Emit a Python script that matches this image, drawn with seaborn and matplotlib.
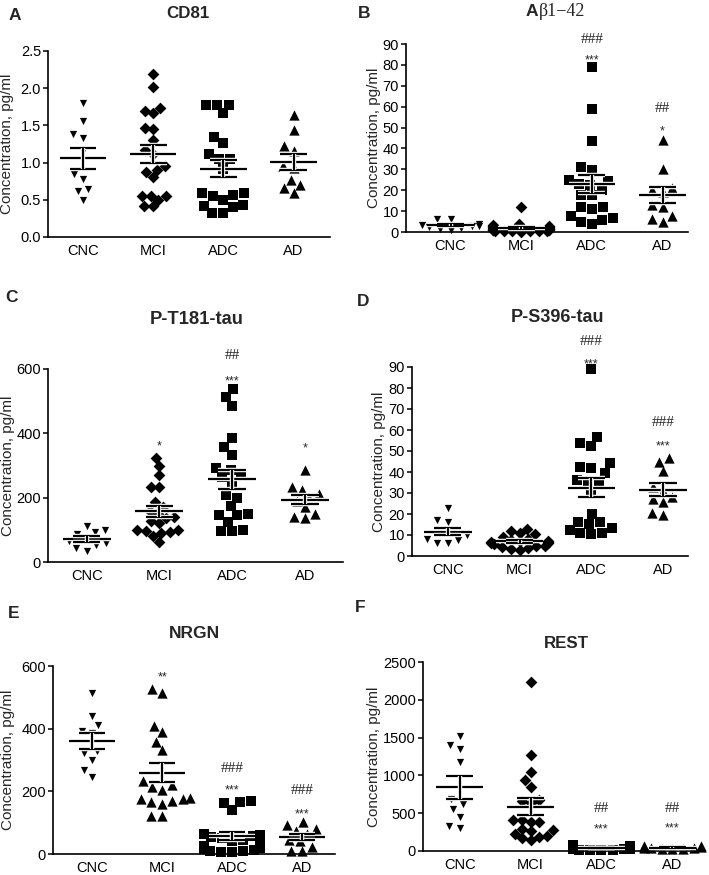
import warnings
warnings.filterwarnings("ignore")
import numpy as np
import pandas as pd
import matplotlib
matplotlib.use("Agg")
import matplotlib.pyplot as plt
import matplotlib.patheffects as pe
import seaborn as sns

# ---------------- data ----------------
groups = ["CNC", "MCI", "ADC", "AD"]

cd81_cnc = [1.80, 1.56, 1.38, 1.33, 1.15, 0.85, 0.78, 0.64, 0.62, 0.50]
cd81_mci = [2.19, 2.01, 1.69, 1.66, 1.73, 1.45, 1.46, 1.30, 1.17, 1.12,
            0.95, 0.87, 0.80, 0.90, 0.55, 0.50, 0.41, 0.41, 0.55, 0.55]
cd81_adc = [1.78, 1.78, 1.78, 1.66, 1.34, 1.26, 1.12, 1.05, 1.05, 0.92,
            0.59, 0.55, 0.56, 0.59, 0.50, 0.43, 0.41, 0.40, 0.32, 0.32]
cd81_ad = [1.64, 1.44, 1.22, 1.15, 0.95, 0.93, 0.77, 0.70, 0.66, 0.59]

ab_cnc = [6.2, 6.0, 4.0, 3.5, 3.0, 3.0, 2.5, 2.0, 1.5, 1.0]
ab_mci = [12.2, 4.0, 3.5, 3.0, 3.0, 2.5, 2.5, 2.0, 2.0, 1.5, 1.5, 1.2, 1.0,
          1.0, 0.8, 0.6, 0.5, 0.5, 0.4, 0.3, 0.3, 0.2]
ab_adc = [79.0, 59.0, 43.7, 31.3, 29.7, 25.0, 24.2, 23.0, 22.5, 20.0, 17.8,
          17.5, 12.2, 12.2, 11.1, 6.7, 5.9, 7.5, 5.0, 4.0]
ab_ad = [44.0, 30.0, 21.0, 20.0, 19.0, 13.0, 12.0, 7.5, 6.0, 5.0]

pt181_cnc = [112, 100, 92, 88, 72, 65, 58, 52, 42, 35]
pt181_mci = [322, 298, 269, 234, 232, 187, 172, 160, 140, 138, 128, 100, 98,
             95, 92, 90, 80, 62, 150, 120]
pt181_adc = [537, 512, 485, 386, 356, 334, 291, 285, 270, 265, 250, 208, 200,
             173, 150, 145, 145, 125, 100, 95, 95]
pt181_ad = [285, 233, 225, 210, 200, 190, 170, 150, 138, 140]

ps396_cnc = [23, 17, 16, 12, 11, 10, 8, 7.5, 6, 6]
ps396_mci = [13, 12, 11, 10.5, 9, 8, 7.5, 7, 7, 6.5, 6.5, 6, 6, 5.5, 5, 5,
             4.5, 4, 3.5, 3]
ps396_adc = [89, 56.9, 53.7, 52.5, 44.1, 41.7, 42.5, 39.6, 36.1, 35.5, 35.4,
             30.6, 20.2, 16.2, 16, 15.4, 13.5, 12.5, 11.1, 11, 10.5]
ps396_ad = [46.5, 45, 40.5, 33, 31, 28, 27, 25.5, 20.5, 19.5]

nrgn_cnc = [515, 439, 412, 394, 385, 330, 322, 300, 269, 247]
nrgn_mci = [526, 513, 410, 388, 359, 332, 232, 221, 215, 205, 178, 175, 175,
            170, 165, 160, 122, 122]
nrgn_adc = [168, 165, 163, 141, 65, 62, 58, 55, 50, 45, 40, 32, 25, 20, 15,
            12, 10, 8, 5, 5]
nrgn_ad = [102, 92, 80, 75, 65, 45, 40, 22, 10, 8]

rest_cnc = [1517, 1398, 1354, 1177, 692, 626, 560, 450, 309, 326]
rest_mci = [2235, 1265, 1045, 935, 847, 670, 660, 640, 414, 406, 380, 295,
            282, 260, 229, 200, 185, 141, 170, 390]
rest_adc = [75, 70, 65, 60, 55, 50, 48, 45, 40, 38, 35, 30, 28, 25, 22, 20,
            18, 15, 12, 10]
rest_ad = [70, 60, 55, 50, 45, 40, 35, 30, 25, 20]

titles = ["CD81", None, "P-T181-tau", "P-S396-tau", "NRGN", "REST"]
letters = ["A", "B", "C", "D", "E", "F"]

# significance marks: (group, text, y)
annot_b = [("ADC", "***", 84), ("ADC", "###", 92), ("AD", "*", 50), ("AD", "##", 59)]
annot_c = [("MCI", "*", 373), ("ADC", "***", 574), ("ADC", "##", 643), ("AD", "*", 366)]
annot_d = [("ADC", "***", 93), ("ADC", "###", 102), ("AD", "***", 54), ("AD", "###", 63.7)]
annot_e = [("MCI", "**", 577), ("ADC", "***", 216), ("ADC", "###", 274),
           ("AD", "***", 138), ("AD", "###", 203)]
annot_f = [("ADC", "***", 340), ("ADC", "##", 560), ("AD", "***", 348), ("AD", "##", 560)]

# ---------------- style ----------------
sns.set_style("ticks")
plt.rcParams["font.family"] = ["Liberation Sans", "DejaVu Sans"]
plt.rcParams["axes.linewidth"] = 1.2

W, H = 709, 875
fig = plt.figure(figsize=(W / 100, H / 100), dpi=100)

# marker sizes: (size used for swarm spacing, size drawn)
SIZES = {"v": (7.4, 5.2), "^": (7.4, 5.2), "s": (7.6, 4.9), "D": (6.0, 3.3)}
swarm_colls = []


def add_axes(l, r, t, b):
    return fig.add_axes([l / W, 1 - b / H, (r - l) / W, (b - t) / H])


def panel(ax, series, markers, ylim, yticks, xlim, annots, ylab_x):
    frames = [pd.DataFrame({"group": g, "value": v}) for g, v in zip(groups, series)]
    df = pd.concat(frames, ignore_index=True)
    n0 = len(ax.collections)
    for g, m in zip(groups, markers):
        sub = df[df["group"] == g]
        sns.swarmplot(data=sub, x="group", y="value", order=groups, marker=m,
                      color="black", size=SIZES[m][0], linewidth=0, ax=ax,
                      clip_on=False, zorder=3)
    for c, m in zip(list(ax.collections[n0:]), markers):
        swarm_colls.append((ax, c, m))
    halo = [pe.Stroke(linewidth=3.2, foreground="white"), pe.Normal()]
    for i, v in enumerate(series):
        v = np.asarray(v, dtype=float)
        mu = v.mean()
        se = v.std(ddof=1) / np.sqrt(len(v))
        kw = dict(color="black", lw=1.6, zorder=5, path_effects=halo, clip_on=False)
        ax.hlines(mu, i - 0.33, i + 0.33, **kw)
        ax.hlines([mu - se, mu + se], i - 0.19, i + 0.19, **kw)
        ax.vlines(i, mu - se, mu + se, **kw)
    for g, txt, y in annots:
        xi = groups.index(g)
        if "*" in txt:
            ax.annotate(txt, (xi, y), xytext=(0, -3), textcoords="offset points",
                        ha="center", va="center", fontsize=9,
                        family=["Liberation Sans"], annotation_clip=False)
        else:
            ax.annotate(txt, (xi, y), ha="center", va="center", fontsize=11,
                        family=["Liberation Serif"], annotation_clip=False)
    ax.set_ylim(*ylim)
    ax.set_yticks(yticks)
    ax.set_xlim(*xlim)
    ax.set_xlabel("")
    ax.set_ylabel("Concentration, pg/ml", fontsize=11)
    ax.yaxis.set_label_coords(ylab_x, 0.5)
    sns.despine(ax=ax)
    ax.tick_params(axis="y", length=3.5, width=1.1, labelsize=10.5, pad=1.5,
                   colors="black")
    ax.tick_params(axis="x", length=0, labelsize=10.5, pad=5, colors="black")
    for s in ("left", "bottom"):
        ax.spines[s].set_color("black")


m_std = ["v", "D", "s", "^"]

axA = add_axes(48, 330, 51, 237)
panel(axA, [cd81_cnc, cd81_mci, cd81_adc, cd81_ad], m_std, (0, 2.5),
      [0.0, 0.5, 1.0, 1.5, 2.0, 2.5], (-0.5, 3.52), [], -0.12)
axA.yaxis.set_major_formatter(matplotlib.ticker.FormatStrFormatter("%.1f"))

axB = add_axes(406, 688, 44, 232)
panel(axB, [ab_cnc, ab_mci, ab_adc, ab_ad], m_std, (0, 90),
      list(range(0, 91, 10)), (-0.63, 3.36), annot_b, -0.089)

axC = add_axes(48, 343, 369, 562)
panel(axC, [pt181_cnc, pt181_mci, pt181_adc, pt181_ad], m_std, (0, 600),
      [0, 200, 400, 600], (-0.53, 3.52), annot_c, -0.112)

axD = add_axes(412, 688, 367, 556)
panel(axD, [ps396_cnc, ps396_mci, ps396_adc, ps396_ad], m_std, (0, 90),
      list(range(0, 91, 10)), (-0.5, 3.35), annot_d, -0.094)

axE = add_axes(53, 335, 666, 854)
panel(axE, [nrgn_cnc, nrgn_mci, nrgn_adc, nrgn_ad], ["v", "^", "s", "^"],
      (0, 600), [0, 200, 400, 600], (-0.56, 3.47), annot_e, -0.135)

axF = add_axes(423, 695, 662, 851)
panel(axF, [rest_cnc, rest_mci, rest_adc, rest_ad], m_std, (0, 2500),
      [0, 500, 1000, 1500, 2000, 2500], (-0.52, 3.32), annot_f, -0.154)

# titles
title_pos = [(188, 14), None, (197, 320), (558, 318), (194, 633), (566, 643)]
title_size = [12.2, None, 13.2, 13.0, 12.5, 12.2]
for t, p, fs in zip(titles, title_pos, title_size):
    if t is None:
        continue
    fig.text(p[0] / W, 1 - p[1] / H, t, ha="center", va="center",
             fontsize=fs, fontweight="bold")
fig.text(538 / W, 1 - 11 / H, "A", ha="right", va="center", fontsize=12.5,
         fontweight="bold")
fig.text(539 / W, 1 - 11 / H, "β1−42", ha="left", va="center", fontsize=13,
         family=["Liberation Serif", "DejaVu Serif"])

letter_pos = [(9, 16), (358, 13), (5, 298), (357, 302), (8, 613), (355, 608)]
for L, p in zip(letters, letter_pos):
    fig.text(p[0] / W, 1 - p[1] / H, L, ha="left", va="center", fontsize=12.5,
             fontweight="bold")

# seaborn lays the swarms out at draw time; render once, then redraw each
# swarm's laid-out points with the smaller drawn marker size
fig.canvas.draw()
for ax, coll, m in swarm_colls:
    xy = np.asarray(coll.get_offsets())
    coll.remove()
    ax.scatter(xy[:, 0], xy[:, 1], marker=m, s=SIZES[m][1] ** 2, color="black",
               linewidths=0, clip_on=False, zorder=3)

fig.savefig("out.png", dpi=100)
